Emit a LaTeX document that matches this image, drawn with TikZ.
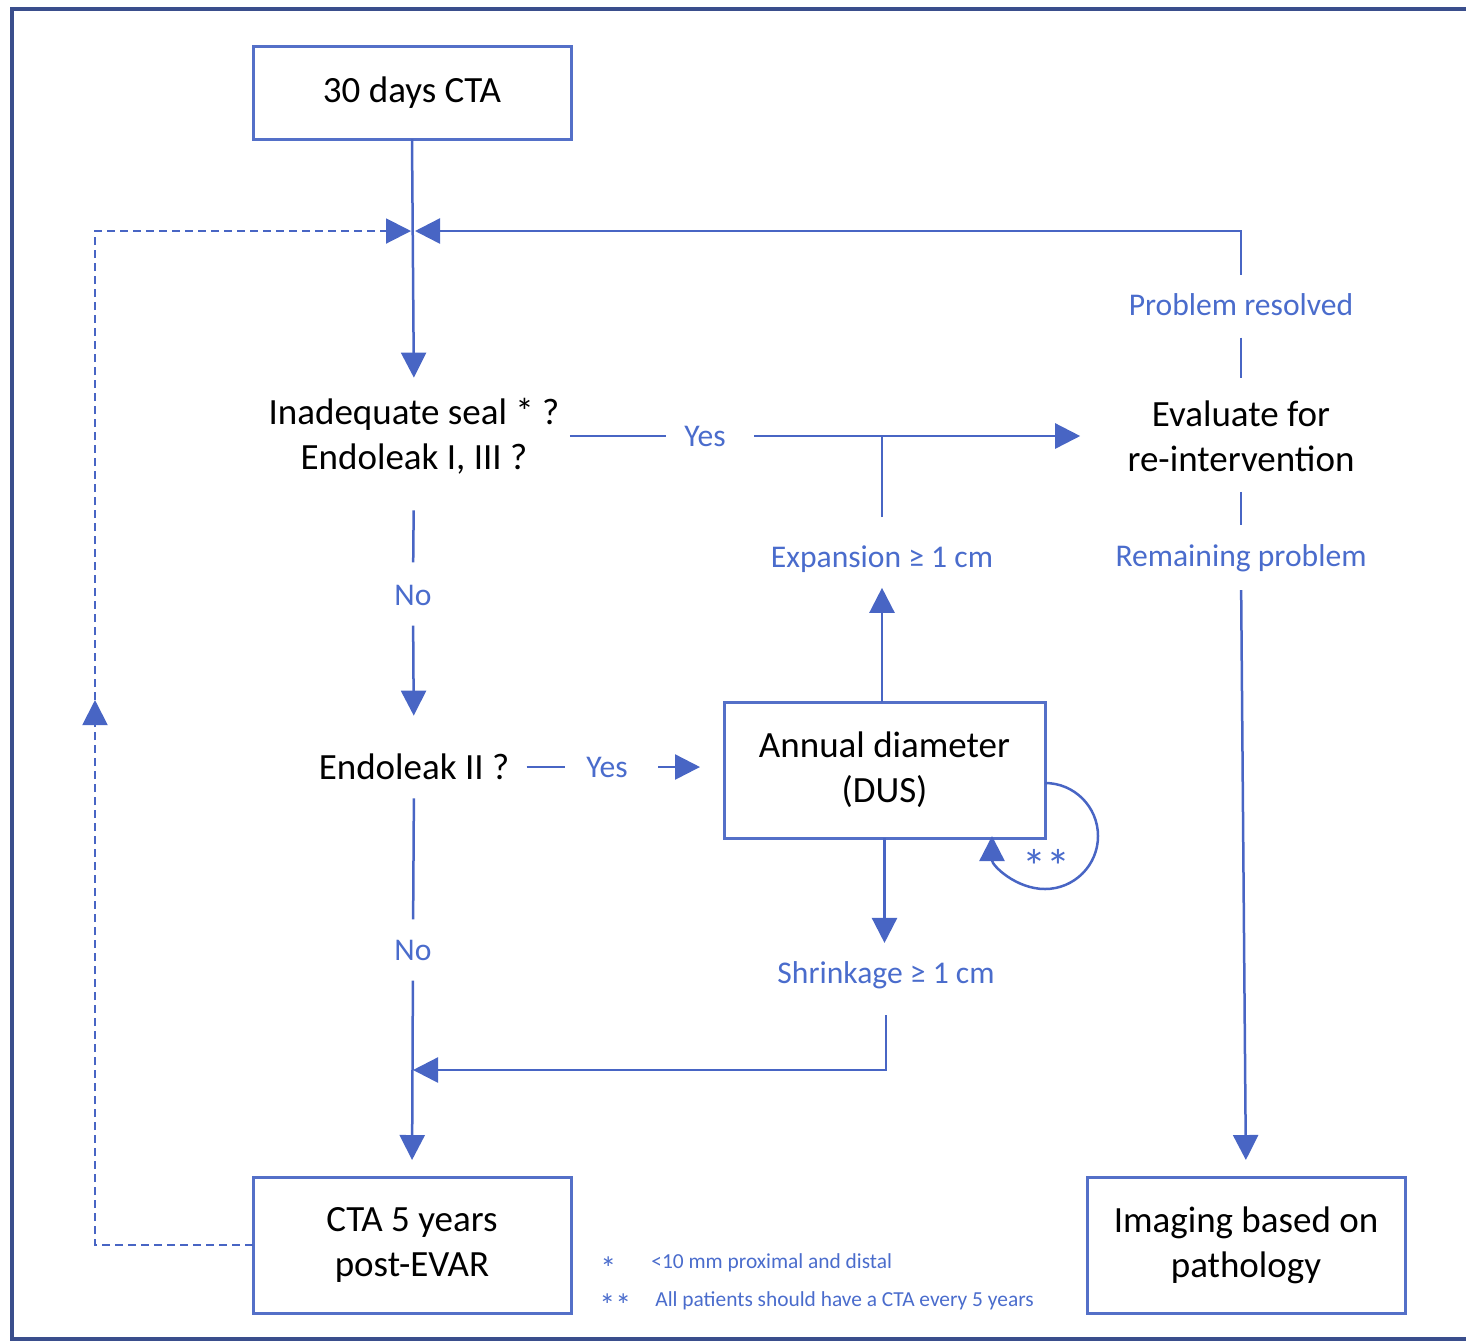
\documentclass[tikz,border=0pt]{standalone}
\usepackage{fontspec}
\setmainfont{Carlito}
\usetikzlibrary{arrows.meta}
\definecolor{linec}{RGB}{72,101,196}
\definecolor{labc}{RGB}{74,108,204}
\definecolor{boxc}{RGB}{84,112,200}
\definecolor{framec}{RGB}{58,78,140}
\newcommand\mainfs{\fontsize{18.5}{22.5}\selectfont}
\newcommand\labfs{\fontsize{15.8}{19}\selectfont}
\newcommand\footfs{\fontsize{10.7}{13}\selectfont}
\begin{document}
\begin{tikzpicture}[x=0.5pt,y=-0.5pt,
  box/.style={draw=boxc,line width=1.5pt,inner sep=0pt,outer sep=0pt,align=center,font=\mainfs,text=black},
  txt/.style={inner sep=0pt,align=center,font=\mainfs,text=black},
  lbl/.style={inner sep=0pt,font=\labfs,text=labc},
  foot/.style={inner sep=0pt,font=\footfs,text=labc},
  starlbl/.style={inner sep=0pt,text=labc},
  conn/.style={draw=linec,line width=1.25pt},
  arr/.style={conn,-{Triangle[length=12.5pt,width=12.5pt]}},
  dasharr/.style={draw=linec,line width=1pt,dash pattern=on 4pt off 2.5pt,-{Triangle[length=12.5pt,width=12.5pt]}}]
\useasboundingbox (0,0) rectangle (1466,1341);
\draw[framec,line width=2pt] (1470,9) -| (12,1339) -- (1470,1339);

% nodes
\node[box,minimum width=159pt,minimum height=46.5pt] (box1) at (412,92.5) {30 days CTA};
\node[txt] (q1) at (414,436) {Inadequate seal * ?\\Endoleak I, III ?};
\node[txt] (q2) at (414,767) {Endoleak II ?};
\node[lbl] (no1) at (413,595) {No};
\node[lbl] (no2) at (413,950) {No};
\node[lbl] (yes1) at (705,436) {Yes};
\node[lbl] (yes2) at (607,767) {Yes};
\node[box,minimum width=160.5pt,minimum height=68pt] (annual) at (884.5,770) {Annual diameter\\(DUS)};
\node[lbl] (exp) at (882,559) {Expansion ≥ 1 cm};
\node[lbl] (shr) at (886,975) {Shrinkage ≥ 1 cm};
\node[txt] (eval) at (1241,436) {Evaluate for\\re-intervention};
\node[lbl] (res) at (1241,305) {Problem resolved};
\node[lbl] (rem) at (1241,558) {Remaining problem};
\node[box,minimum width=159pt,minimum height=68pt] (cta5) at (412,1245) {CTA 5 years\\post-EVAR};
\node[box,minimum width=159pt,minimum height=68pt] (img) at (1246,1245) {Imaging based on\\pathology};
\node[starlbl,font=\fontsize{24}{24}\selectfont,anchor=base] (stars) at (1046,883) {**};
\node[starlbl,font=\fontsize{16}{16}\selectfont,anchor=base west] (fs1) at (600,1279) {*};
\node[foot,anchor=base west] (ft1) at (651,1268) {<10 mm proximal and distal};
\node[starlbl,font=\fontsize{16}{16}\selectfont,anchor=base west] (fs2) at (599,1316) {**};
\node[foot,anchor=base west] (ft2) at (655,1306) {All patients should have a CTA every 5 years};

\coordinate (J) at (413,231);
\coordinate (dA) at (95,700);
\coordinate (M) at (413,1070);

% main column
\draw[arr,shorten >=10pt] (box1.south) -- (q1.north);
\draw[conn,shorten <=18pt,shorten >=11pt] (q1.south) -- (no1.north);
\draw[arr,shorten <=10pt,shorten >=19pt] (no1.south) -- (q2.north);
\draw[conn,shorten <=9pt,shorten >=10pt] (q2.south) -- (no2.north);
\draw[arr,shorten <=10pt,shorten >=8.5pt] (no2.south) -- (cta5.north);

% yes branches
\draw[conn,shorten <=5pt,shorten >=9pt] (q1.east) -- (yes1.west);
\draw[arr,shorten <=14pt,shorten >=23.5pt] (yes1.east) -- (eval.west);
\draw[conn,shorten <=8.5pt,shorten >=10.5pt] (q2.east) -- (yes2.west);
\draw[arr,shorten <=15pt,shorten >=12pt] (yes2.east) -- (yes2.east -| annual.west);

% annual diameter outputs
\draw[arr,shorten >=7.5pt] (exp.south |- annual.north) -- (exp.south);
\draw[conn,shorten <=14pt] (exp.north) -- (exp.north |- yes1.east);
\draw[arr,shorten >=9pt] (annual.south) -- (annual.south |- shr.north);
\draw[arr,shorten <=13pt] (shr.south) |- (M);
\draw[arr] ([yshift=-6.5pt]annual.east) arc[start angle=-90,end angle=180,radius=53];

% right column
\draw[arr,shorten <=9.5pt,shorten >=1pt] (res.north) |- (J);
\draw[conn,shorten <=10.5pt,shorten >=11pt] (res.south) -- (eval.north);
\draw[conn,shorten <=10pt,shorten >=9.5pt] (eval.south) -- (rem.north);
\draw[arr,shorten <=9pt,shorten >=8.5pt] (rem.south) -- (img.north);

% dashed return
\draw[dasharr] (cta5.west) -| (dA);
\draw[dasharr,shorten >=1pt] (dA) |- (J);
\end{tikzpicture}
\end{document}
